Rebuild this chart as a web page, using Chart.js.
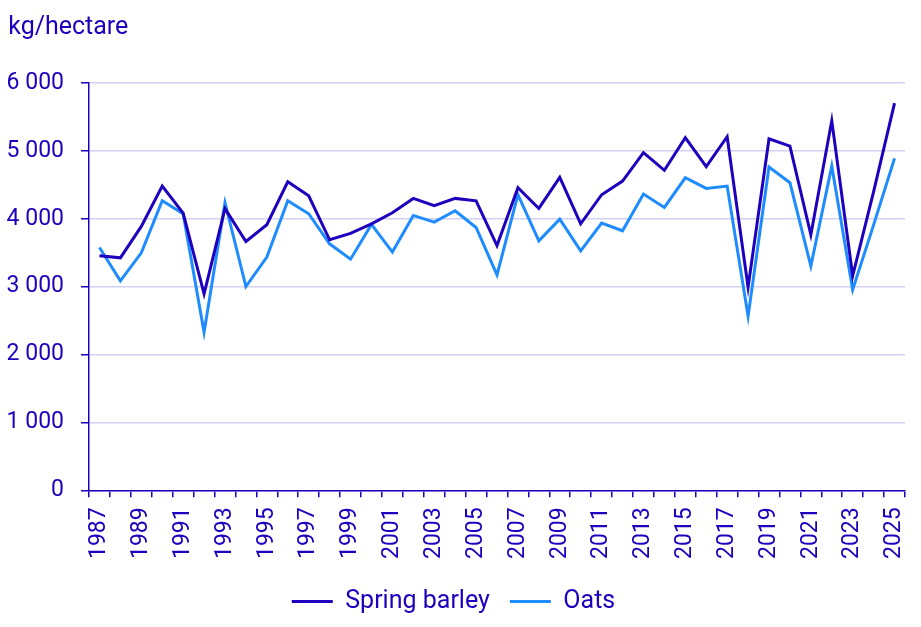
<!DOCTYPE html>
<html>
<head>
<meta charset="utf-8">
<script src="https://cdn.jsdelivr.net/npm/chart.js@4.4.0/dist/chart.umd.min.js"></script>
<style>
  body { margin: 0; background: #fff; }
  #chart { display: block; }
</style>
</head>
<body>
<canvas id="chart" width="921" height="627"></canvas>
<script>
// Years on the x axis
const years = [
  '1987', '1988', '1989', '1990', '1991', '1992', '1993', '1994', '1995', '1996',
  '1997', '1998', '1999', '2000', '2001', '2002', '2003', '2004', '2005', '2006',
  '2007', '2008', '2009', '2010', '2011', '2012', '2013', '2014', '2015', '2016',
  '2017', '2018', '2019', '2020', '2021', '2022', '2023', '2024', '2025'
];

// Yield, kg/hectare
const springBarley = [
  3455, 3425, 3887, 4482, 4084, 2894, 4150, 3666, 3912, 4545,
  4339, 3690, 3784, 3926, 4088, 4300, 4192, 4300, 4265, 3605,
  4457, 4152, 4609, 3926, 4354, 4555, 4973, 4713, 5194, 4767,
  5209, 2993, 5179, 5071, 3764, 5445, 3160, 4400, 5703
];
const oats = [
  3577, 3086, 3499, 4265, 4074, 2329, 4236, 3002, 3435, 4265,
  4074, 3631, 3405, 3916, 3509, 4049, 3951, 4118, 3872, 3174,
  4354, 3676, 3995, 3528, 3936, 3823, 4364, 4167, 4604, 4447,
  4482, 2565, 4762, 4531, 3302, 4776, 2955, 3910, 4890
];

const yTicks = [0, 1000, 2000, 3000, 4000, 5000, 6000];

const DARK = '#1e00be';
const LIGHT = '#1e8cff';
const FONT = 'Roboto';

function spaced(v) {
  return String(v).replace(/\B(?=(\d{3})+(?!\d))/g, ' ');
}

const ctx = document.getElementById('chart').getContext('2d');

new Chart(ctx, {
  type: 'line',
  data: {
    labels: years,
    datasets: [
      { label: 'Spring barley', data: springBarley, borderColor: DARK, backgroundColor: DARK,
        borderWidth: 3, pointRadius: 0, tension: 0 },
      { label: 'Oats', data: oats, borderColor: LIGHT, backgroundColor: LIGHT,
        borderWidth: 3, pointRadius: 0, tension: 0 }
    ]
  },
  options: {
    responsive: false,
    animation: false,
    layout: { padding: { left: 2, right: 16, bottom: 3 } },
    plugins: {
      title: {
        display: true,
        text: ' kg/hectare',
        align: 'start',
        color: DARK,
        font: { family: FONT, size: 25, weight: 'normal' },
        padding: { top: 13, bottom: 40 }
      },
      legend: {
        position: 'bottom',
        labels: {
          color: DARK,
          font: { family: FONT, size: 25 },
          usePointStyle: true,
          pointStyle: 'line',
          pointStyleWidth: 41,
          padding: 20
        }
      },
      tooltip: { enabled: false }
    },
    scales: {
      x: {
        offset: true,
        grid: { drawOnChartArea: false, offset: true, tickLength: 7, color: DARK, tickColor: DARK, lineWidth: 1.5 },
        border: { color: DARK, width: 1.5 },
        afterFit: axis => { axis.paddingLeft = 0; axis.paddingRight = 0; },
        ticks: {
          color: DARK,
          font: { family: FONT, size: 23 },
          autoSkip: false,
          minRotation: 90,
          maxRotation: 90,
          padding: 10,
          callback: (v, i) => (i % 2 === 0 ? years[i] : '')
        }
      },
      y: {
        min: yTicks[0],
        max: yTicks[yTicks.length - 1],
        afterBuildTicks: axis => { axis.ticks = yTicks.map(v => ({ value: v })); },
        afterFit: axis => { axis.width = 87; },
        grid: { color: '#d2d2f0', tickColor: DARK, tickLength: 8, lineWidth: 1.5 },
        border: { color: DARK, width: 1.5 },
        ticks: {
          color: DARK,
          font: { family: FONT, size: 23 },
          padding: 17,
          callback: v => spaced(v)
        }
      }
    }
  }
});
</script>
</body>
</html>
